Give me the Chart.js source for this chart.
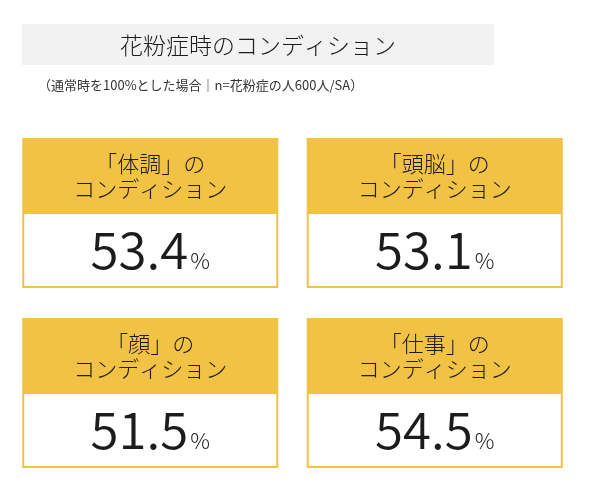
<!DOCTYPE html>
<html>
<head>
<meta charset="utf-8">
<script src="https://cdn.jsdelivr.net/npm/chart.js@4/dist/chart.umd.min.js"></script>
<style>
  html, body { margin: 0; padding: 0; background: #fff; }
  canvas { display: block; }
</style>
</head>
<body>
<canvas id="chart" width="590" height="502"></canvas>
<script>
// ---------------------------------------------------------------------------
// Data
// ---------------------------------------------------------------------------
const TITLE    = "花粉症時のコンディション";
const SUBTITLE = "（通常時を100%とした場合｜n=花粉症の人600人/SA）";

const topics  = ["「体調」の", "「頭脳」の", "「顔」の", "「仕事」の"];
const suffix  = "コンディション";
const values  = [53.4, 53.1, 51.5, 54.5];
const cols    = [0, 1, 0, 1];
const rows    = [0, 0, 1, 1];

const FONT   = "'Noto Sans CJK JP', 'Noto Sans', sans-serif";
const YELLOW = "#f1c244";
const INK    = "#1c1c1c";

// ---------------------------------------------------------------------------
// Header (title box + note), drawn in the top padding
// ---------------------------------------------------------------------------
const headerPlugin = {
  id: "header",
  beforeDraw(chart) {
    const ctx = chart.ctx;
    ctx.save();
    ctx.fillStyle = "#f2f2f2";
    ctx.fillRect(22, 24, 472, 41);

    ctx.fillStyle = INK;
    ctx.font = `300 23px ${FONT}`;
    ctx.textAlign = "center";
    ctx.textBaseline = "middle";
    ctx.fillText(TITLE, 258, 45);

    ctx.fillStyle = "#333";
    ctx.font = `400 13px ${FONT}`;
    ctx.textAlign = "left";
    ctx.fillText(SUBTITLE, 38, 85);
    ctx.restore();
  },
};

// ---------------------------------------------------------------------------
// Cards, placed on the hidden scales at each point
// ---------------------------------------------------------------------------
const cardPlugin = {
  id: "cards",
  afterDatasetsDraw(chart) {
    const ctx = chart.ctx;
    const xs = chart.scales.x, ys = chart.scales.y;
    const meta = chart.getDatasetMeta(0);

    meta.data.forEach((pt, i) => {
      const c = cols[i], r = rows[i];
      const left   = xs.getPixelForValue(c + 0.05);
      const right  = xs.getPixelForValue(c + 0.95);
      const top    = ys.getPixelForValue(r + 0.0833);
      const bottom = ys.getPixelForValue(r + 0.9167);
      const w = right - left, h = bottom - top;
      const headH = h * 0.507;

      ctx.save();
      ctx.fillStyle = YELLOW;
      ctx.fillRect(left, top, w, h);
      ctx.fillStyle = "#fff";
      ctx.fillRect(left + 2, top + headH, w - 4, h - headH - 2);

      // header text
      ctx.fillStyle = INK;
      ctx.font = `300 22px ${FONT}`;
      ctx.textAlign = "center";
      ctx.textBaseline = "middle";
      ctx.fillText(topics[i], pt.x, top + headH * 0.34);
      ctx.fillText(suffix,    pt.x, top + headH * 0.67);

      // value
      const num = values[i].toFixed(1);
      ctx.textAlign = "left";
      ctx.textBaseline = "alphabetic";
      ctx.font = `350 51px ${FONT}`;
      const nw = ctx.measureText(num).width;
      ctx.font = `300 22px ${FONT}`;
      const pw = ctx.measureText("%").width;
      const x0 = pt.x - (nw + 2 + pw) / 2;
      const base = top + headH + (h - headH) / 2 + 18;
      ctx.font = `350 51px ${FONT}`;
      ctx.fillText(num, x0, base);
      ctx.font = `300 22px ${FONT}`;
      ctx.fillText("%", x0 + nw + 2, base);
      ctx.restore();
    });
  },
};

new Chart(document.getElementById("chart"), {
  type: "scatter",
  data: {
    datasets: [{
      data: values.map((v, i) => ({ x: cols[i] + 0.5, y: rows[i] + 0.5 })),
      pointRadius: 0,
      pointHoverRadius: 0,
    }],
  },
  options: {
    responsive: false,
    animation: false,
    layout: { padding: { left: 8, right: 13, top: 123, bottom: 19 } },
    scales: {
      x: { type: "linear", min: 0, max: 2, display: false },
      y: { type: "linear", min: 0, max: 2, reverse: true, display: false },
    },
    plugins: {
      legend: { display: false },
      tooltip: { enabled: false },
    },
  },
  plugins: [headerPlugin, cardPlugin],
});
</script>
</body>
</html>
